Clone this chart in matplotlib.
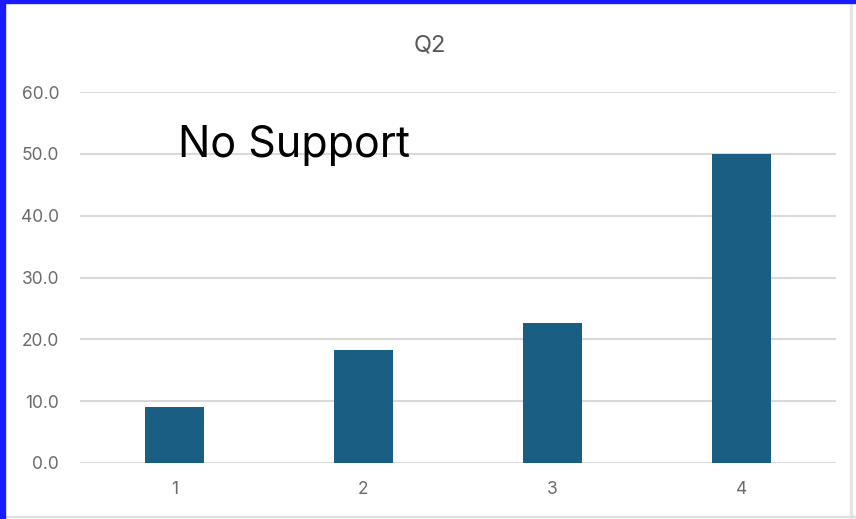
import matplotlib.pyplot as plt
from matplotlib.patches import Rectangle

# data
categories = ['1', '2', '3', '4']
values = [9.1, 18.2, 22.7, 50.0]
y_ticks = [0, 10, 20, 30, 40, 50, 60]

BAR_COLOR = '#1b5e84'
GRID_COLOR = '#d9d9d9'
TEXT_GRAY = '#595959'

plt.rcParams['font.family'] = ['Inter', 'DejaVu Sans']

fig = plt.figure(figsize=(8.56, 5.19), dpi=100)
ax = fig.add_axes([0.0935, 0.1079, 0.883, 0.7148])

x = list(range(len(categories)))
ax.bar(x, values, width=0.31, color=BAR_COLOR, zorder=3)

ax.set_xlim(-0.5, len(categories) - 0.5)
ax.set_ylim(0, 60)
ax.set_yticks(y_ticks)
ax.set_yticklabels([f'{t:.1f}' for t in y_ticks])
ax.set_xticks(x)
ax.set_xticklabels(categories)
ax.yaxis.grid(True, color=GRID_COLOR, linewidth=1.5, zorder=0)
ax.tick_params(axis='both', length=0, colors='#6b6b6b', labelsize=12.5)
ax.tick_params(axis='y', pad=15)
ax.tick_params(axis='x', pad=13)
for s in ax.spines.values():
    s.set_visible(False)

# title sits at the figure centre, not the axes centre
fig.text(0.502, 0.913, 'Q2', fontsize=17, color=TEXT_GRAY, ha='center', va='center')
ax.text(0.13, 0.825, 'No Support', transform=ax.transAxes, fontsize=31,
        color='black', ha='left', va='baseline')

# frame of the screenshot: blue strips at left/top, faint gray at right/bottom
W, H = 856, 519
fig.patches.append(Rectangle((0, 0), 5 / W, 1, transform=fig.transFigure,
                             color='#1a1aff', zorder=10))
fig.patches.append(Rectangle((0, 1 - 3 / H), 1, 3 / H, transform=fig.transFigure,
                             color='#1a1aff', zorder=10))
fig.patches.append(Rectangle((850 / W, 0), 1.5 / W, 1 - 3 / H, transform=fig.transFigure,
                             color='#e6e6e6', zorder=9))
fig.patches.append(Rectangle((0, 2 / H), 1, 1.5 / H, transform=fig.transFigure,
                             color='#e0e0e0', zorder=9))

fig.savefig('out.png', dpi=100)
